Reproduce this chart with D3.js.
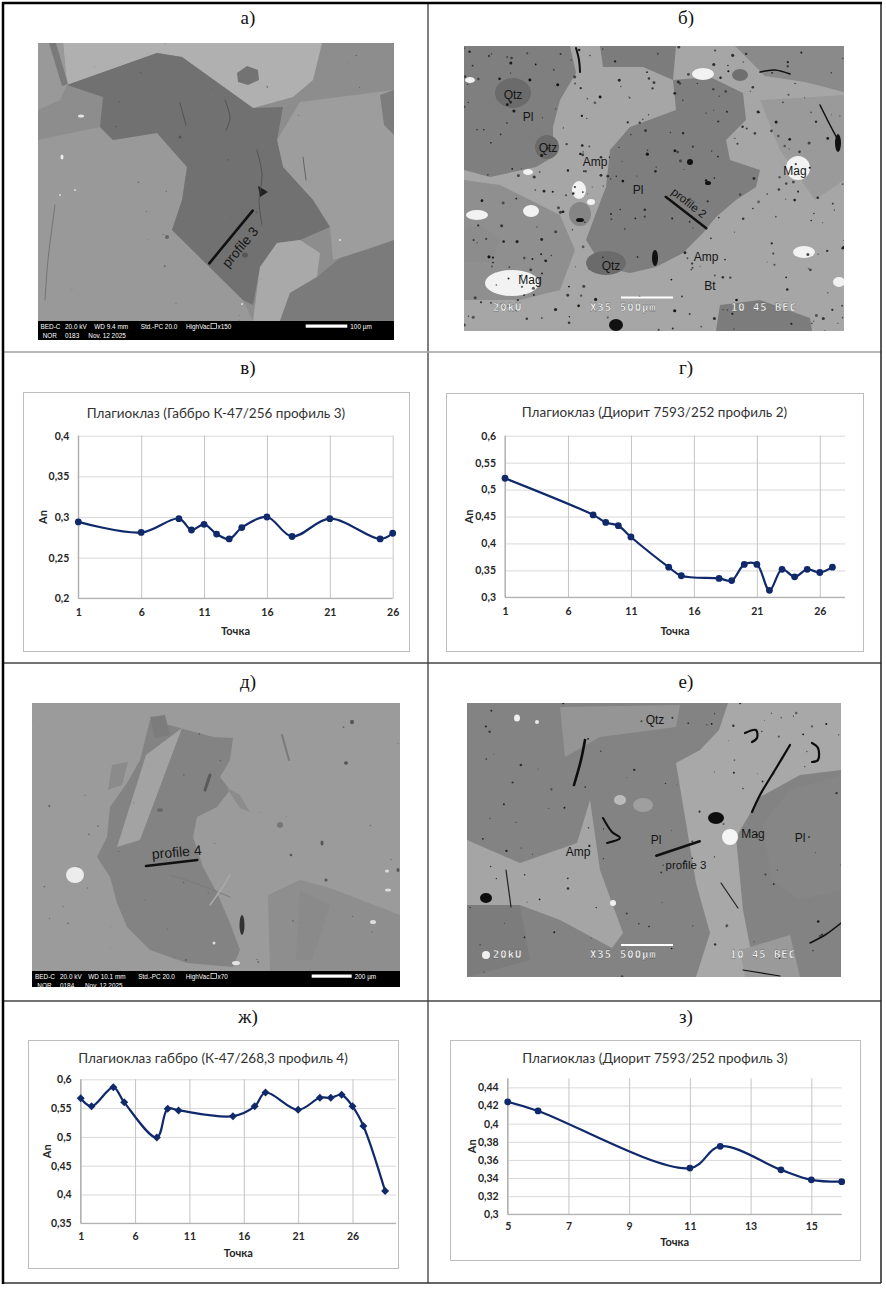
<!DOCTYPE html>
<html lang="ru">
<head>
	<meta charset="utf-8">
	<script src="https://cdn.jsdelivr.net/npm/d3@7"></script>
	<style>
		body{ margin:0; background:#fff; }
		svg{ display:block; }
	</style>
</head>
<body>
<script>
	// --- данные графиков (An по точкам профиля) ---
	var v_points = [1, 6, 9, 10, 11, 12, 13, 14, 16, 18, 21, 25, 26];
	var v_an     = [0.294, 0.281, 0.298, 0.284, 0.291, 0.279, 0.273, 0.287, 0.300, 0.276, 0.298, 0.273, 0.280];

	var g_points = [1, 8, 9, 10, 11, 14, 15, 18, 19, 20, 21, 22, 23, 24, 25, 26, 27];
	var g_an     = [0.521, 0.453, 0.439, 0.433, 0.412, 0.356, 0.340, 0.335, 0.331, 0.361, 0.361, 0.313, 0.352, 0.338, 0.352, 0.346, 0.356];

	var zh_points = [1, 2, 4, 5, 8, 9, 10, 15, 17, 18, 21, 23, 24, 25, 26, 27, 29];
	var zh_an     = [0.567, 0.553, 0.586, 0.560, 0.499, 0.549, 0.546, 0.536, 0.553, 0.577, 0.547, 0.568, 0.568, 0.573, 0.553, 0.519, 0.406];

	var z_points = [5, 6, 11, 12, 14, 15, 16];
	var z_an     = [0.424, 0.414, 0.351, 0.375, 0.349, 0.338, 0.336];

	// --- оси ---
	var v_yticks  = [0.2, 0.25, 0.3, 0.35, 0.4];
	var g_yticks  = [0.3, 0.35, 0.4, 0.45, 0.5, 0.55, 0.6];
	var zh_yticks = [0.35, 0.4, 0.45, 0.5, 0.55, 0.6];
	var z_yticks  = [0.3, 0.32, 0.34, 0.36, 0.38, 0.4, 0.42, 0.44];
	var v_xticks  = [1, 6, 11, 16, 21, 26];
	var g_xticks  = [1, 6, 11, 16, 21, 26];
	var zh_xticks = [1, 6, 11, 16, 21, 26];
	var z_xticks  = [5, 7, 9, 11, 13, 15];

	var titles = [
		"Плагиоклаз (Габбро К-47/256 профиль 3)",
		"Плагиоклаз (Диорит 7593/252 профиль 2)",
		"Плагиоклаз габбро (К-47/268,3 профиль 4)",
		"Плагиоклаз (Диорит 7593/252 профиль 3)"
	];
	var cellLabels = ["а)", "б)", "в)", "г)", "д)", "е)", "ж)", "з)"];

	var width = 886, height = 1301;
	var lineColor = "#10296b";

	var svg = d3.select("body").append("svg")
		.attr("width", width)
		.attr("height", height);
	var defs = svg.append("defs");

	// ---------- таблица ----------
	var table = svg.append("g").attr("id", "table");
	var labelPos = [[248, 24], [686, 24], [248, 374], [686, 374], [248, 688], [686, 688], [248, 1023], [686, 1023]];
	table.selectAll("text.lab")
		.data(cellLabels).enter()
		.append("text")
		.attr("class", "lab")
		.attr("x", function(d, i){ return labelPos[i][0]; })
		.attr("y", function(d, i){ return labelPos[i][1]; })
		.attr("text-anchor", "middle")
		.attr("font-family", "'Liberation Serif', 'DejaVu Serif', serif")
		.attr("font-size", 19)
		.attr("fill", "#111")
		.text(function(d){ return d; });

	// ---------- снимки ----------
	function lcg(seed){
		var s = seed;
		return function(){ s = (s * 1664525 + 1013904223) % 4294967296; return s / 4294967296; };
	}

	function photo(id, rect, spec){
		var x0 = rect[0], y0 = rect[1], x1 = rect[2], y1 = rect[3];
		defs.append("clipPath").attr("id", "clip-" + id)
			.append("rect").attr("x", x0).attr("y", y0).attr("width", x1 - x0).attr("height", y1 - y0);
		var g = svg.append("g").attr("id", id).attr("clip-path", "url(#clip-" + id + ")");
		g.append("rect").attr("x", x0).attr("y", y0).attr("width", x1 - x0).attr("height", y1 - y0).attr("fill", spec.bg);
		(spec.polys || []).forEach(function(p){
			g.append("polygon").attr("points", p[1].map(function(q){ return q.join(","); }).join(" "))
				.attr("fill", p[0]);
		});
		(spec.ells || []).forEach(function(e){
			g.append("ellipse").attr("cx", e[1]).attr("cy", e[2]).attr("rx", e[3]).attr("ry", e[4]).attr("fill", e[0]);
		});
		if (spec.speckle){
			var rnd = lcg(spec.speckle.seed);
			for (var i = 0; i < spec.speckle.n; i++){
				var r = spec.speckle.r[0] + rnd() * (spec.speckle.r[1] - spec.speckle.r[0]);
				g.append("circle")
					.attr("cx", x0 + rnd() * (x1 - x0))
					.attr("cy", y0 + rnd() * (y1 - y0))
					.attr("r", r)
					.attr("fill", spec.speckle.color)
					.attr("opacity", 0.5 + rnd() * 0.5);
			}
		}
		(spec.paths || []).forEach(function(p){
			g.append("path").attr("d", d3.line().curve(d3.curveCatmullRom)(p[2]))
				.attr("fill", "none").attr("stroke", p[0]).attr("stroke-width", p[1]).attr("stroke-linecap", "round");
		});
		(spec.labels || []).forEach(function(t){
			g.append("text").attr("x", t[1]).attr("y", t[2]).attr("dy", "0.35em")
				.attr("text-anchor", "middle")
				.attr("font-family", "'Liberation Sans', Arial, sans-serif")
				.attr("font-size", t[3] || 12)
				.attr("fill", "#151515")
				.attr("transform", t[4] ? "rotate(" + t[4] + "," + t[1] + "," + t[2] + ")" : null)
				.text(t[0]);
		});
		return g;
	}

	// bar with microscope info (JEOL style)
	function infoBar(g, x0, y0, x1, y1, line1, line2, scale){
		g.append("rect").attr("x", x0).attr("y", y0).attr("width", x1 - x0).attr("height", y1 - y0).attr("fill", "#000");
		var t = g.append("g").attr("font-family", "'Liberation Sans', Arial, sans-serif")
			.attr("font-size", 6.4).attr("fill", "#fff");
		line1.forEach(function(s){ t.append("text").attr("x", s[1]).attr("y", y0 + 8).text(s[0]); });
		line2.forEach(function(s){ t.append("text").attr("x", s[1]).attr("y", y0 + 16.5).text(s[0]); });
		g.append("rect").attr("x", scale[0]).attr("y", y0 + 3.5).attr("width", scale[1] - scale[0]).attr("height", 3.2).attr("fill", "#fff");
		t.append("text").attr("x", scale[1] + 3).attr("y", y0 + 8).text(scale[2]);
		g.append("rect").attr("x", scale[3]).attr("y", y0 + 2.5).attr("width", 5.5).attr("height", 5)
			.attr("fill", "none").attr("stroke", "#fff").attr("stroke-width", 0.7);
	}

	function becText(g, y, items, bar){
		g.append("line").attr("x1", bar[0]).attr("x2", bar[1]).attr("y1", bar[2]).attr("y2", bar[2])
			.attr("stroke", "#fff").attr("stroke-width", 2);
		items.forEach(function(s){
			g.append("text").attr("x", s[1]).attr("y", y)
				.attr("font-family", "'DejaVu Sans Mono', monospace").attr("font-weight", "bold")
				.attr("font-size", 10.5).attr("letter-spacing", 1)
				.attr("fill", "#fff").attr("stroke", "#444").attr("stroke-width", 0.3)
				.text(s[0]);
		});
	}

	// а) габбро К-47/256
	var pa = photo("photoA", [38, 43, 394, 340], {
		bg: "#8d8d8d",
		polys: [
			["#b0b0b0", [[63,43],[322,43],[313,80],[293,97],[253,108],[182,57],[157,53],[67,85]]],
			["#999999", [[38,43],[63,43],[67,85],[60,100],[38,110]]],
			["#7a7a7a", [[49,43],[56,43],[68,84],[62,86]]],
			["#9d9d9d", [[277,140],[300,102],[394,90],[394,243],[333,260],[330,227],[313,200],[283,167]]],
			["#999999", [[38,140],[100,127],[113,140],[157,133],[187,167],[182,200],[172,230],[243,300],[253,321],[38,321]]],
			["#717171", [[67,85],[157,53],[182,57],[253,108],[283,107],[277,140],[283,167],[313,200],[330,227],[300,240],[277,243],[260,267],[253,305],[243,300],[172,230],[182,200],[187,167],[157,133],[113,140],[100,127],[103,97]]],
			["#a9a9a9", [[260,267],[277,243],[300,240],[320,253],[317,277],[290,293],[280,321],[253,321]]],
			["#7b7b7b", [[280,321],[290,293],[317,277],[340,258],[365,250],[394,240],[394,321]]],
			["#737373", [[237,73],[247,66],[258,70],[259,80],[248,85],[238,82]]],
			["#7d7d7d", [[380,95],[394,90],[394,135],[384,125]]],
			["#222222", [[258,186],[268,192],[260,197]]]
		],
		ells: [
			["#555", 245, 255, 3, 2.5], ["#666", 167, 237, 2, 2], ["#555", 180, 137, 1.5, 1.5],
			["#eee", 62, 157, 1.5, 2.5], ["#ddd", 60, 195, 1, 1], ["#ddd", 75, 190, 1, 1],
			["#ddd", 340, 240, 1.2, 1], ["#ddd", 242, 304, 1, 1], ["#e5e5e5", 81, 116, 3, 1.5]
		],
		speckle: {seed: 5, n: 30, r: [0.4, 0.9], color: "#555"},
		paths: [
			["#4a4a4a", 0.8, [[257,150],[262,175],[259,200],[262,225]]],
			["#4a4a4a", 0.8, [[225,100],[230,118],[226,130]]],
			["#4a4a4a", 0.8, [[180,103],[186,125]]],
			["#555", 0.8, [[303,157],[306,180]]],
			["#6a6a6a", 0.8, [[55,205],[48,260],[45,300]]],
			["#111", 2.6, [[209.3,263.3],[252.7,210.7]]]
		],
		labels: [["profile 3", 240, 247, 13.5, -50]]
	});
	infoBar(pa, 38, 321, 394, 340,
		[["BED-C", 40.5], ["20.0 kV", 65], ["WD 9.4 mm", 94.3], ["Std.-PC 20.0", 140.7], ["HighVac.", 186], ["x150", 217.5]],
		[["NOR", 42.7], ["0183", 65], ["Nov. 12 2025", 88.3]],
		[305.7, 347.3, "100 µm", 211]);

	// б) диорит 7593/252
	var pb = photo("photoB", [464, 46, 844, 331], {
		bg: "#a6a6a6",
		polys: [
			["#8f8f8f", [[464,180],[500,185],[530,200],[560,215],[575,250],[560,290],[520,300],[464,300]]],
			["#7f7f7f", [[464,46],[570,46],[576,73],[560,100],[553,127],[553,157],[536,167],[490,177],[464,170]]],
			["#7c7c7c", [[600,46],[676,46],[673,80],[643,67],[603,67]]],
			["#7e7e7e", [[610,150],[630,127],[676,110],[673,80],[710,77],[743,93],[746,120],[726,140],[730,160],[760,170],[756,187],[736,200],[716,217],[703,233],[683,253],[656,267],[630,273],[603,267],[586,240],[596,213],[606,187]]],
			["#8a8a8a", [[735,46],[844,46],[844,92],[805,82],[765,76]]],
			["#9a9a9a", [[760,100],[844,95],[844,180],[815,200],[780,150]]],
			["#7c7c7c", [[716,331],[720,305],[760,300],[810,318],[812,331]]],
			["#8c8c8c", [[464,230],[480,225],[500,240],[492,262],[464,262]]]
		],
		ells: [
			["#6b6b6b", 513, 93, 18, 15], ["#6b6b6b", 547, 147, 12, 12], ["#6b6b6b", 606, 263, 20, 12],
			["#858585", 580, 214, 11, 12], ["#6f6f6f", 740, 75, 8, 6],
			["#f2f2f2", 798, 168, 12, 12], ["#f2f2f2", 579, 190, 7, 9], ["#f2f2f2", 531, 211, 8, 6],
			["#f2f2f2", 512, 283, 27, 13], ["#f2f2f2", 703, 74, 11, 6], ["#f2f2f2", 804, 252, 11, 6],
			["#f2f2f2", 839, 282, 6, 5], ["#f2f2f2", 477, 215, 11, 5], ["#f2f2f2", 528, 172, 5, 3],
			["#f2f2f2", 591, 202, 4, 3], ["#f2f2f2", 470, 80, 5, 3],
			["#111", 690, 162, 3, 3], ["#111", 708, 183, 3, 2], ["#111", 580, 220, 4, 2],
			["#111", 655, 258, 3, 8], ["#111", 616, 325, 7, 6], ["#111", 838, 143, 3, 9]
		],
		speckle: {seed: 7, n: 320, r: [0.5, 1.6], color: "#111"},
		paths: [
			["#111", 2, [[576,48],[579,60],[580,72]]],
			["#111", 1.5, [[760,72],[775,70],[790,74]]],
			["#111", 1.5, [[820,105],[830,125],[838,140]]],
			["#111", 2.5, [[665.7,196.7],[706.3,228.3]]]
		],
		labels: [
			["Qtz", 513, 95], ["Pl", 528, 117], ["Qtz", 548, 148], ["Amp", 595, 162],
			["Pl", 638, 190], ["Mag", 795, 171], ["Amp", 706, 257], ["Qtz", 611, 266],
			["Bt", 710, 286], ["Mag", 530, 280], ["profile 2", 689, 203, 11.5, 38]
		]
	});
	becText(pb, 311, [["20kU", 493], ["X35", 590], ["500µm", 620], ["10 45 BEC", 731]], [621, 673, 297.5]);

	// д) габбро К-47/268,3
	var pd = photo("photoD", [32, 703, 400, 987], {
		bg: "#9b9b9b",
		polys: [
			["#838383", [[150,720],[180,728],[213,737],[233,738],[230,760],[220,777],[230,790],[217,807],[197,817],[193,837],[203,867],[217,893],[230,923],[240,950],[233,967],[187,963],[150,950],[127,927],[117,903],[110,877],[97,857],[107,837],[110,807],[127,783],[140,760]]],
			["#a3a3a3", [[146,755],[182,728],[140,840],[117,847]]],
			["#8e8e8e", [[268,895],[300,880],[330,888],[400,915],[400,971],[270,971]]],
			["#8a8a8a", [[300,890],[330,905],[312,960],[296,960]]],
			["#8c8c8c", [[226,787],[240,795],[250,812],[240,808]]],
			["#7c7c7c", [[150,717],[165,715],[170,735],[155,738]]],
			["#8b8b8b", [[112,765],[128,762],[122,785],[108,790]]]
		],
		ells: [
			["#ececec", 75, 875, 9, 8], ["#ddd", 388, 890, 3, 1.5], ["#ddd", 373, 922, 3, 2],
			["#e5e5e5", 236, 963, 4, 2], ["#ddd", 387, 871, 2, 1.5], ["#ddd", 214, 943, 1.5, 1.5],
			["#555", 352, 722, 2, 2.2], ["#555", 346, 763, 2, 1.8], ["#555", 322, 843, 1.5, 2.5],
			["#555", 291, 855, 1.3, 1.3], ["#555", 326, 880, 1.5, 1.5], ["#555", 398, 870, 1.5, 2],
			["#6a6a6a", 160, 810, 3, 2], ["#333", 242, 925, 2.5, 10], ["#777", 280, 825, 3, 3]
		],
		speckle: {seed: 11, n: 40, r: [0.4, 1], color: "#555"},
		paths: [
			["#5a5a5a", 3, [[205,790],[210,775]]],
			["#7a7a7a", 1, [[170,875],[200,885],[230,897]]],
			["#aaaaaa", 1.5, [[210,905],[222,888],[230,875]]],
			["#7a7a7a", 2, [[282,735],[289,760]]],
			["#111", 2.5, [[146,866],[197.3,860]]]
		],
		labels: [["profile 4", 176.7, 852, 14, -5]]
	});
	infoBar(pd, 32, 971, 400, 987,
		[["BED-C", 35], ["20.0 kV", 60], ["WD 10.1 mm", 88.3], ["Std.-PC 20.0", 138.3], ["HighVac.", 185.7], ["x70", 217.5]],
		[["NOR", 37.3], ["0184", 60], ["Nov. 12 2025", 85]],
		[311.7, 351.7, "200 µm", 211]);

	// е) диорит 7593/252
	var pe = photo("photoE", [467, 703, 841, 977], {
		bg: "#838383",
		polys: [
			["#959595", [[560,707],[680,705],[676,727],[600,737],[565,757]]],
			["#a5a5a5", [[467,840],[520,863],[577,843],[590,800],[600,870],[623,933],[612,948],[560,920],[520,905],[467,905]]],
			["#a8a8a8", [[676,763],[700,750],[719,730],[728,703],[841,703],[841,770],[800,775],[760,797],[736,837],[743,910],[756,977],[696,977],[710,933],[696,883]]],
			["#868686", [[790,790],[841,775],[841,890],[800,900],[772,880],[762,825]]],
			["#7c7c7c", [[467,905],[520,905],[530,960],[467,977]]],
			["#9a9a9a", [[740,950],[790,935],[800,977],[745,977]]]
		],
		ells: [
			["#0d0d0d", 716, 818, 8, 6], ["#f5f5f5", 730, 837, 8, 8],
			["#0d0d0d", 486, 898, 6, 5], ["#f0f0f0", 517, 718, 3, 3.5], ["#e8e8e8", 537, 722, 2, 2],
			["#f0f0f0", 613, 903, 3, 3], ["#f0f0f0", 486, 955, 4, 4], ["#bbb", 620, 800, 6, 5],
			["#9f9f9f", 643, 805, 10, 7]
		],
		speckle: {seed: 23, n: 110, r: [0.4, 1.3], color: "#111"},
		paths: [
			["#0d0d0d", 2.6, [[585,740],[581,760],[574,785]]],
			["#0d0d0d", 2.2, [[790,745],[775,770],[760,795],[752,812]]],
			["#0d0d0d", 2.2, [[745,733],[756,730],[757,738],[752,742]]],
			["#0d0d0d", 2.2, [[812,743],[818,748],[818,760],[812,762]]],
			["#0d0d0d", 2, [[603,818],[612,832],[620,838],[607,843]]],
			["#222", 1.2, [[506,870],[511,907]]],
			["#222", 1.2, [[721,883],[738,908]]],
			["#111", 1.5, [[810,943],[825,935],[841,923]]],
			["#111", 1.2, [[743,970],[780,976]]],
			["#111", 2.5, [[656.3,855.7],[699.7,841.3]]]
		],
		labels: [
			["Qtz", 655, 720], ["Pl", 656, 840], ["Amp", 578, 852], ["Mag", 753, 834],
			["Pl", 800, 838], ["profile 3", 686, 865, 11.5, 0]
		]
	});
	becText(pe, 958, [["20kU", 493], ["X35", 590], ["500µm", 620], ["10 45 BEC", 730]], [621, 673, 945]);

	// ---------- графики ----------
	function fmtTick(t){ return String(+t.toFixed(2)).replace(".", ","); }

	function drawChart(cfg, xs, ys){
		var g = svg.append("g").attr("class", "chart");
		var b = cfg.box, p = cfg.plot;
		g.append("rect").attr("x", b[0] + 0.5).attr("y", b[1] + 0.5)
			.attr("width", b[2] - b[0]).attr("height", b[3] - b[1])
			.attr("fill", "#fff").attr("stroke", "#bdbdbd");

		var x = d3.scaleLinear().domain(cfg.xDom).range([p[0], p[2]]);
		var y = d3.scaleLinear().domain(cfg.yDom).range([p[3], p[1]]);
		var pw = p[2] - p[0], ph = p[3] - p[1];

		var gy = g.append("g").attr("transform", "translate(" + p[0] + ",0)")
			.call(d3.axisLeft(y).tickValues(cfg.yTicks).tickSize(-pw).tickPadding(9).tickFormat(fmtTick));
		gy.select(".domain").remove();
		gy.selectAll("line").attr("stroke", "#d9d9d9");

		var gx = g.append("g").attr("transform", "translate(0," + p[3] + ")")
			.call(d3.axisBottom(x).tickValues(cfg.xTicks).tickSize(-ph).tickPadding(cfg.xPad).tickFormat(d3.format("d")));
		gx.select(".domain").remove();
		gx.selectAll("line").attr("stroke", "#c4c4c4");

		[gx, gy].forEach(function(a){
			a.attr("font-family", "Lato, 'Open Sans', sans-serif").attr("font-size", 10.5);
			a.selectAll("text").attr("font-weight", "bold").attr("fill", "#262626");
		});

		g.append("line").attr("x1", p[0]).attr("x2", p[0]).attr("y1", p[1]).attr("y2", p[3]).attr("stroke", "#a6a6a6");
		g.append("line").attr("x1", p[0]).attr("x2", p[2]).attr("y1", p[3]).attr("y2", p[3]).attr("stroke", "#a6a6a6");

		var pts = xs.map(function(d, i){ return [d, ys[i]]; });
		var line = d3.line()
			.x(function(d){ return x(d[0]); })
			.y(function(d){ return y(d[1]); })
			.curve(d3.curveCatmullRom.alpha(0.5));
		g.append("path").datum(pts).attr("d", line)
			.attr("fill", "none").attr("stroke", lineColor).attr("stroke-width", 2.2);

		if (cfg.marker === "diamond"){
			g.selectAll("path.mk").data(pts).enter().append("path").attr("class", "mk")
				.attr("d", "M0,-4L4,0L0,4L-4,0Z")
				.attr("transform", function(d){ return "translate(" + x(d[0]) + "," + y(d[1]) + ")"; })
				.attr("fill", lineColor);
		} else {
			g.selectAll("circle.mk").data(pts).enter().append("circle").attr("class", "mk")
				.attr("cx", function(d){ return x(d[0]); })
				.attr("cy", function(d){ return y(d[1]); })
				.attr("r", 3.4).attr("fill", lineColor);
		}

		g.append("text").attr("x", (b[0] + b[2]) / 2).attr("y", cfg.titleY).attr("dy", "0.35em")
			.attr("text-anchor", "middle")
			.attr("font-family", "Lato, 'Open Sans', sans-serif").attr("font-size", 13.5)
			.attr("fill", "#333")
			.text(cfg.title);
		g.append("text").attr("x", (p[0] + p[2]) / 2).attr("y", p[3] + cfg.xTitleOff).attr("dy", "0.35em")
			.attr("text-anchor", "middle")
			.attr("font-family", "Lato, 'Open Sans', sans-serif").attr("font-size", 11).attr("font-weight", "bold")
			.attr("fill", "#262626")
			.text("Точка");
		var ax = p[0] - cfg.yTitleOff, ay = (p[1] + p[3]) / 2;
		g.append("text").attr("x", ax).attr("y", ay).attr("dy", "0.35em")
			.attr("text-anchor", "middle")
			.attr("transform", "rotate(-90," + ax + "," + ay + ")")
			.attr("font-family", "Lato, 'Open Sans', sans-serif").attr("font-size", 11).attr("font-weight", "bold")
			.attr("fill", "#262626")
			.text("An");
	}

	drawChart({ box: [23, 392, 409, 651], plot: [78.3, 435.7, 392.7, 598.3],
		xDom: [1, 26], yDom: [0.2, 0.4], xTicks: v_xticks, yTicks: v_yticks,
		title: titles[0], titleY: 413, xPad: 10, xTitleOff: 33, yTitleOff: 35, marker: "circle" }, v_points, v_an);

	drawChart({ box: [446, 393, 863, 651], plot: [505, 435.7, 845, 597.3],
		xDom: [1, 28], yDom: [0.3, 0.6], xTicks: g_xticks, yTicks: g_yticks,
		title: titles[1], titleY: 412, xPad: 10, xTitleOff: 34, yTitleOff: 36, marker: "circle" }, g_points, g_an);

	drawChart({ box: [28, 1040, 398, 1268], plot: [80.7, 1079.3, 396, 1223.3],
		xDom: [1, 30], yDom: [0.35, 0.6], xTicks: zh_xticks, yTicks: zh_yticks,
		title: titles[2], titleY: 1058, xPad: 9, xTitleOff: 30, yTitleOff: 34, marker: "diamond" }, zh_points, zh_an);

	drawChart({ box: [450, 1040, 860, 1260], plot: [507.7, 1078.3, 841.7, 1214.3],
		xDom: [5, 16], yDom: [0.3, 0.45], xTicks: z_xticks, yTicks: z_yticks,
		title: titles[3], titleY: 1058, xPad: 8, xTitleOff: 28, yTitleOff: 36, marker: "circle" }, z_points, z_an);

	// ---------- линии таблицы ----------
	var grid = svg.append("g").attr("id", "grid").attr("fill", "none");
	grid.append("line").attr("x1", 428).attr("x2", 428).attr("y1", 3).attr("y2", 1283).attr("stroke", "#555").attr("stroke-width", 1.5);
	grid.append("line").attr("x1", 3).attr("x2", 881).attr("y1", 352).attr("y2", 352).attr("stroke", "#a0a0a0").attr("stroke-width", 1.5);
	grid.append("line").attr("x1", 3).attr("x2", 881).attr("y1", 663).attr("y2", 663).attr("stroke", "#444").attr("stroke-width", 1.5);
	grid.append("line").attr("x1", 3).attr("x2", 881).attr("y1", 1001).attr("y2", 1001).attr("stroke", "#444").attr("stroke-width", 1.5);
	grid.append("line").attr("x1", 3).attr("x2", 881).attr("y1", 1283).attr("y2", 1283).attr("stroke", "#333").attr("stroke-width", 1.5);
	grid.append("line").attr("x1", 881).attr("x2", 881).attr("y1", 3).attr("y2", 1283).attr("stroke", "#222").attr("stroke-width", 1.5);
	grid.append("line").attr("x1", 3).attr("x2", 3).attr("y1", 2).attr("y2", 1284).attr("stroke", "#000").attr("stroke-width", 2.5);
	grid.append("line").attr("x1", 2).attr("x2", 882).attr("y1", 3).attr("y2", 3).attr("stroke", "#000").attr("stroke-width", 2.5);
</script>
</body>
</html>
